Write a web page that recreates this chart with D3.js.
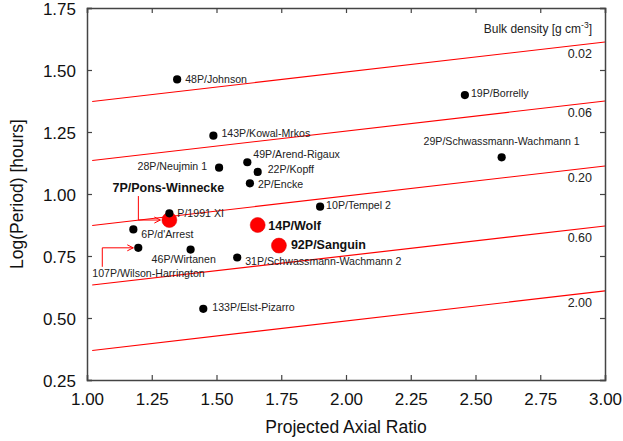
<!DOCTYPE html>
<html>
<head>
<meta charset="utf-8">
<script src="https://cdn.jsdelivr.net/npm/d3@7"></script>
<style>
  html, body { margin: 0; padding: 0; background: #fff; }
  svg { display: block; font-family: "Liberation Sans", Arial, sans-serif; }
</style>
</head>
<body>
<svg id="chart" width="623" height="441"></svg>
<script>
// ---------- data ----------
const cometNames = [
  "48P/Johnson", "143P/Kowal-Mrkos", "49P/Arend-Rigaux", "28P/Neujmin 1",
  "22P/Kopff", "2P/Encke", "P/1991 XI", "6P/d'Arrest",
  "107P/Wilson-Harrington", "46P/Wirtanen", "31P/Schwassmann-Wachmann 2",
  "10P/Tempel 2", "133P/Elst-Pizarro", "19P/Borrelly", "29P/Schwassmann-Wachmann 1"
];
const cometAxialRatio = [1.348, 1.488, 1.619, 1.510, 1.659, 1.629, 1.318, 1.179, 1.198, 1.400, 1.580, 1.900, 1.449, 2.459, 2.601];
const cometLogPeriod  = [1.462, 1.235, 1.128, 1.106, 1.089, 1.043, 0.922, 0.857, 0.783, 0.776, 0.744, 0.949, 0.537, 1.399, 1.148];

const highlightNames = ["7P/Pons-Winnecke", "14P/Wolf", "92P/Sanguin"];
const highlightAxialRatio = [1.318, 1.659, 1.741];
const highlightLogPeriod  = [0.895, 0.875, 0.792];

const densityLabels = ["0.02", "0.06", "0.20", "0.60", "2.00"];
const densityLineStartX = 1.02;
const densityLineEndX = 3.00;
const densityLineStartY = [1.373, 1.135, 0.873, 0.633, 0.369];
const densityLineEndY   = [1.613, 1.375, 1.113, 0.871, 0.609];

const xTicks = [1.00, 1.25, 1.50, 1.75, 2.00, 2.25, 2.50, 2.75, 3.00];
const yTicks = [0.25, 0.50, 0.75, 1.00, 1.25, 1.50, 1.75];

// ---------- layout (label placement, not data) ----------
const cometLabelPos = [
  {dx: 8, dy: 0, a: "start"},
  {dx: 8, dy: -2.5, a: "start"},
  {dx: 6, dy: -8, a: "start"},
  {dx: -12, dy: -1, a: "end"},
  {dx: 10, dy: -3, a: "start"},
  {dx: 8, dy: 1, a: "start"},
  {dx: 8, dy: -0.5, a: "start"},
  {dx: 8, dy: 5, a: "start"},
  {dx: -46, dy: 25.6, a: "start"},
  {dx: -39, dy: 10, a: "start"},
  {dx: 8, dy: 4, a: "start"},
  {dx: 6, dy: -1, a: "start"},
  {dx: 9, dy: -1.4, a: "start"},
  {dx: 6, dy: -1.3, a: "start"},
  {dx: 0, dy: -16, a: "middle"}
];
const highlightLabelPos = [
  {dx: -1, dy: -32.3, a: "middle"},
  {dx: 10.6, dy: 1, a: "start"},
  {dx: 12, dy: -0.7, a: "start"}
];
const arrows = [
  {name: "7P/Pons-Winnecke", pts: [[-31, -24], [-31, 0], [-9, 0]], set: "h"},
  {name: "107P/Wilson-Harrington", pts: [[-36, 19], [-36, 0], [-5, 0]], set: "c"}
];

// ---------- chart ----------
const svg = d3.select("#chart");
const L = 87, R = 605, T = 8, B = 380;
const x = d3.scaleLinear().domain([1, 3]).range([L, R]);
const y = d3.scaleLinear().domain([0.25, 1.75]).range([B, T]);
const axisColor = "#444";

// density lines
const lineGen = d3.line().x(d => x(d[0])).y(d => y(d[1]));
densityLabels.forEach((lab, i) => {
  svg.append("path")
    .attr("d", lineGen([[densityLineStartX, densityLineStartY[i]], [densityLineEndX, densityLineEndY[i]]]))
    .attr("stroke", "#ff0000").attr("stroke-width", 1.2).attr("fill", "none");
  svg.append("text")
    .attr("x", x(densityLineEndX) - 13)
    .attr("y", y(densityLineEndY[i]) + 16)
    .attr("text-anchor", "end")
    .attr("font-size", 12.5).attr("fill", "#222")
    .text(lab);
});

// Bulk density title
const bd = svg.append("text").attr("x", 592).attr("y", 33).attr("text-anchor", "end")
  .attr("font-size", 12).attr("fill", "#222");
bd.append("tspan").text("Bulk density [g cm");
bd.append("tspan").attr("font-size", 8.5).attr("dy", -5).text("-3");
bd.append("tspan").attr("dy", 5).text("]");

// axes
const fmt = d3.format(".2f");
const gx = svg.append("g").attr("transform", `translate(0,${B})`)
  .call(d3.axisBottom(x).tickValues(xTicks).tickSize(-5).tickPadding(13).tickFormat(fmt));
const gy = svg.append("g").attr("transform", `translate(${L},0)`)
  .call(d3.axisLeft(y).tickValues(yTicks).tickSize(-5).tickPadding(11).tickFormat(fmt));
const gt = svg.append("g").attr("transform", `translate(0,${T})`)
  .call(d3.axisTop(x).tickValues(xTicks).tickSize(-5).tickFormat(""));
const gr = svg.append("g").attr("transform", `translate(${R},0)`)
  .call(d3.axisRight(y).tickValues(yTicks).tickSize(-5).tickFormat(""));
[gx, gy, gt, gr].forEach(g => {
  g.select(".domain").attr("stroke", axisColor).attr("stroke-width", 1.5);
  g.selectAll(".tick line").attr("stroke", axisColor).attr("stroke-width", 1.2);
  g.selectAll(".tick text").attr("font-size", 17).attr("fill", "#111")
    .attr("font-family", "Liberation Sans, Arial, sans-serif");
});
gy.selectAll(".tick text").attr("dy", "0.36em");

// axis titles
svg.append("text").attr("x", (L + R) / 2).attr("y", 433).attr("text-anchor", "middle")
  .attr("font-size", 17.5).attr("fill", "#111").text("Projected Axial Ratio");
svg.append("text").attr("transform", `translate(23,${(T + B) / 2}) rotate(-90)`)
  .attr("text-anchor", "middle").attr("font-size", 17.5).attr("fill", "#111")
  .text("Log(Period) [hours]");

// arrows
const px = (set, name) => {
  if (set === "h") { const i = highlightNames.indexOf(name); return [x(highlightAxialRatio[i]), y(highlightLogPeriod[i])]; }
  const i = cometNames.indexOf(name); return [x(cometAxialRatio[i]), y(cometLogPeriod[i])];
};
arrows.forEach(a => {
  const [cx, cy] = px(a.set, a.name);
  const pts = a.pts.map(p => [cx + p[0], cy + p[1]]);
  svg.append("path").attr("d", d3.line()(pts)).attr("stroke", "#ff0000")
    .attr("stroke-width", 1).attr("fill", "none");
  const end = pts[pts.length - 1];
  svg.append("path").attr("d", d3.line()([[end[0] - 6, end[1] - 3], end, [end[0] - 6, end[1] + 3]]))
    .attr("stroke", "#ff0000").attr("stroke-width", 1).attr("fill", "none");
});

// highlighted points (red)
highlightNames.forEach((n, i) => {
  svg.append("circle").attr("cx", x(highlightAxialRatio[i])).attr("cy", y(highlightLogPeriod[i]))
    .attr("r", 7.5).attr("fill", "#ff0000").attr("stroke", "#e00000").attr("stroke-width", 0.5);
});
// regular points (black)
cometNames.forEach((n, i) => {
  svg.append("circle").attr("cx", x(cometAxialRatio[i])).attr("cy", y(cometLogPeriod[i]))
    .attr("r", 4.1).attr("fill", "#000");
});

// labels
cometNames.forEach((n, i) => {
  const p = cometLabelPos[i];
  svg.append("text").attr("x", x(cometAxialRatio[i]) + p.dx).attr("y", y(cometLogPeriod[i]) + p.dy)
    .attr("dy", "0.35em").attr("text-anchor", p.a).attr("font-size", 10.6).attr("fill", "#222").text(n);
});
highlightNames.forEach((n, i) => {
  const p = highlightLabelPos[i];
  svg.append("text").attr("x", x(highlightAxialRatio[i]) + p.dx).attr("y", y(highlightLogPeriod[i]) + p.dy)
    .attr("dy", "0.35em").attr("text-anchor", p.a).attr("font-size", 12.5).attr("font-weight", "bold")
    .attr("fill", "#111").text(n);
});
</script>
</body>
</html>
